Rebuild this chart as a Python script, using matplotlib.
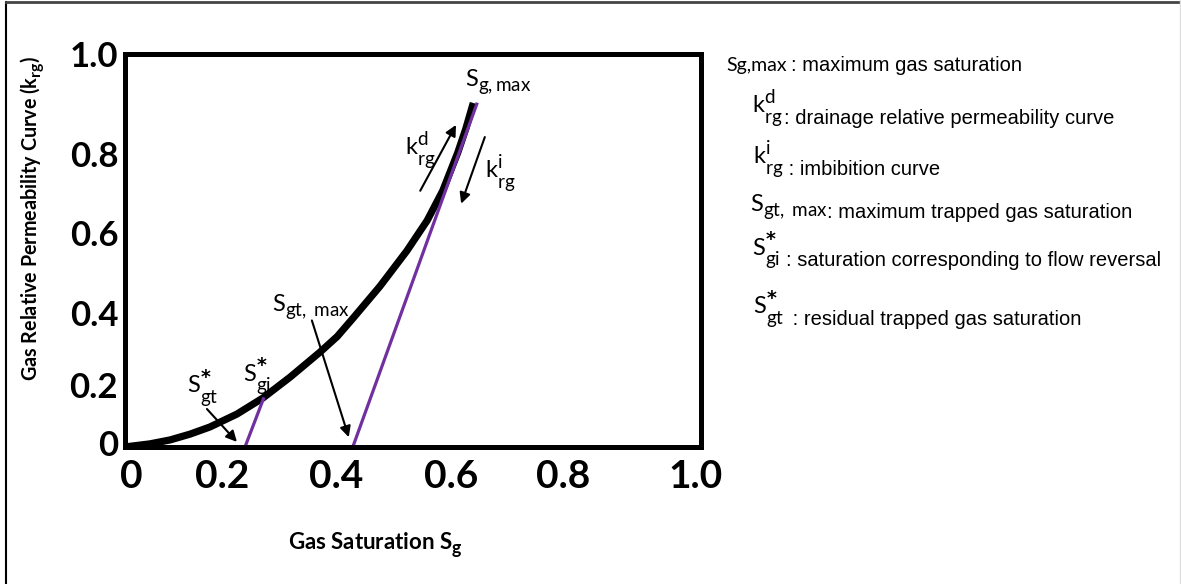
import matplotlib
matplotlib.use("Agg")
import matplotlib.pyplot as plt
import matplotlib._mathtext as mathtext_internal
from matplotlib.lines import Line2D

plt.rcParams['font.family'] = ['Lato', 'DejaVu Sans']
plt.rcParams['mathtext.fontset'] = 'custom'
plt.rcParams['mathtext.rm'] = 'Lato'
plt.rcParams['mathtext.it'] = 'Lato:italic'
plt.rcParams['mathtext.bf'] = 'Lato:bold'
plt.rcParams['mathtext.sf'] = 'DejaVu Sans:bold'
# bigger scripts and a deeper subscript, like the hand made labels
mathtext_internal.SHRINK_FACTOR = 0.8
mathtext_internal.FontConstantsBase.sub1 = 0.45
mathtext_internal.FontConstantsBase.sub2 = 0.9
mathtext_internal.FontConstantsBase.sup1 = 0.8

# drainage curve
sg_drain = [0.0, 0.044, 0.079, 0.114, 0.148, 0.195, 0.240, 0.287, 0.339, 0.369, 0.396,
            0.443, 0.490, 0.525, 0.552, 0.578, 0.592, 0.605]
krg_drain = [0.0, 0.008, 0.018, 0.033, 0.051, 0.084, 0.125, 0.178, 0.242, 0.282, 0.328,
             0.410, 0.501, 0.578, 0.654, 0.751, 0.812, 0.878]

# imbibition lines (from Sg,max and from the reversal point S*gi)
sg_imb_max = [0.611, 0.396]
krg_imb_max = [0.875, 0.0]
sg_imb_rev = [0.241, 0.209]
krg_imb_rev = [0.123, 0.0]

x_ticklabels = ["0", "0.2", "0.4", "0.6", "0.8", "1.0"]
y_ticklabels = ["0", "0.2", "0.4", "0.6", "0.8", "1.0"]

star_gi = r"$\mathregular{S}^{\mathsf{*}}_{\mathregular{gi}}$"
star_gt = r"$\mathregular{S}^{\mathsf{*}}_{\mathregular{gt}}$"
legend_symbols = [r"$\mathregular{k^{d}_{rg}}$",
                  r"$\mathregular{k^{i}_{rg}}$",
                  r"$\mathregular{S_{gt,\ max}}$",
                  star_gi,
                  star_gt]
legend_text = [": drainage relative permeability curve",
               " : imbibition curve",
               ": maximum trapped gas saturation",
               ": saturation corresponding to flow reversal",
               " : residual trapped gas saturation"]

W, H = 1181, 584
fig = plt.figure(figsize=(W / 100, H / 100), dpi=100)
ax = fig.add_axes([124.5 / W, 1 - 447 / H, (701 - 124.5) / W, (447 - 54) / H])
ax.set_xlim(0, 1)
ax.set_ylim(0, 1)
for s in ax.spines.values():
    s.set_linewidth(3.6)

ax.plot(sg_drain, krg_drain, color="black", lw=5.2, solid_joinstyle="round", solid_capstyle="butt")
ax.plot(sg_imb_max, krg_imb_max, color="#7030A0", lw=2.3)
ax.plot(sg_imb_rev, krg_imb_rev, color="#7030A0", lw=2.3)

ax.set_xticks([0.011, 0.169, 0.367, 0.566, 0.761, 0.990])
ax.set_xticklabels(x_ticklabels, fontsize=28, fontweight="bold")
ax.set_yticks([0.010, 0.158, 0.341, 0.545, 0.749, 1.003])
ax.set_yticklabels(y_ticklabels, fontsize=25, fontweight="bold")
ax.tick_params(axis="x", length=0, pad=9)
ax.tick_params(axis="y", length=0, pad=4.5)

arrow = dict(arrowstyle="-|>", color="black", lw=1.5, mutation_scale=16, shrinkA=0, shrinkB=0)
ax.annotate("", xy=(0.195, 0.013), xytext=(0.143, 0.097), arrowprops=arrow)
ax.annotate("", xy=(0.389, 0.025), xytext=(0.325, 0.323), arrowprops=arrow)
ax.annotate("", xy=(0.575, 0.822), xytext=(0.513, 0.654), arrowprops=arrow)
ax.annotate("", xy=(0.584, 0.621), xytext=(0.625, 0.791), arrowprops=arrow)


def put(x, y, s, size, **kw):
    # x, y in pixels from the top left corner, y is the baseline
    fig.text(x / W, 1 - y / H, s, fontsize=size, ha="left", va="baseline", **kw)


# labels inside the plot
put(465, 87, r"$\mathregular{S_{g,max}}$", 17)
put(405, 155, r"$\mathregular{k^{d}_{rg}}$", 17)
put(485, 178, r"$\mathregular{k^{i}_{rg}}$", 17)
put(272, 312, r"$\mathregular{S_{gt,\ max}}$", 17)
put(243, 381, star_gi, 17)
put(187, 393, star_gt, 17)

fig.text(375 / W, 1 - 550 / H, r"Gas Saturation S$\mathregular{_g}$", fontsize=16,
         fontweight="bold", ha="center", va="baseline")
fig.text(33 / W, 1 - 218 / H, r"Gas Relative Permeability Curve (k$\mathregular{_{rg}}$)",
         fontsize=14.2, fontweight="bold", rotation=90, ha="center", va="center")

# legend block on the right
arial = ["Liberation Sans", "DejaVu Sans"]
put(726, 71, "Sg,max", 14)
put(791, 71, ": maximum gas saturation", 14.5, family=arial)
sym_x = [752, 753, 750, 752, 753]
sym_y = [113, 164, 212, 255, 314]
txt_x = [784, 783, 827, 786, 787]
txt_y = [124, 175, 218, 266, 325]
for i in range(len(legend_symbols)):
    put(sym_x[i], sym_y[i], legend_symbols[i], 17)
    put(txt_x[i], txt_y[i], legend_text[i], 14.5, family=arial)

# frame around the whole picture
fig.add_artist(Line2D([5.5 / W, 5.5 / W], [0, 1 - 1.5 / H], transform=fig.transFigure, color="black", lw=1.5))
fig.add_artist(Line2D([5.5 / W, 1], [1 - 1.5 / H, 1 - 1.5 / H], transform=fig.transFigure, color="#444444", lw=2))
fig.add_artist(Line2D([1180 / W, 1180 / W], [0, 1], transform=fig.transFigure, color="#dddddd", lw=1))

fig.savefig("out.png", dpi=100)
